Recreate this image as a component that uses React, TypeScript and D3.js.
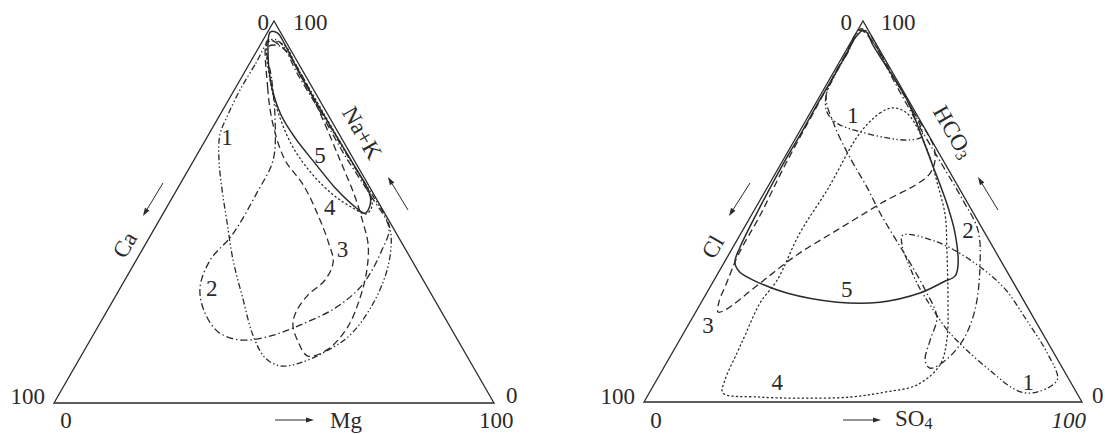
import React from "react";
import * as d3 from "d3";

// every point is [bottom-right %, apex %]; the bottom-left share is the rest
type Pt = [number, number];

// cations: [Mg, Na+K]
const cationField1: Pt[] = [
  [1.6, 95], [1.4, 88.5], [1.3, 81.9], [1.8, 75.4], [2.6, 70.2], [5.7, 63.6], [10.3, 55.8],
  [15.3, 47.9], [22, 37.4], [29.5, 27], [36.3, 17.8], [42.1, 11.8], [46.6, 9.7], [50.7, 10.5],
  [54.9, 13.4], [58.4, 17.8], [59.5, 25.7], [58.3, 34.8], [55.3, 42.7], [52.2, 47.4],
  [45.1, 54.5], [35.5, 63.6], [24.8, 74.1], [14.3, 84.6], [7.1, 91.9], [3.2, 95],
];
const cationField2: Pt[] = [
  [2, 93.2], [7.2, 84.6], [13.2, 74.1], [18, 63.6], [18.6, 55], [18.5, 44], [16.8, 37.4],
  [18, 30.4], [21.9, 24.3], [28, 18.6], [34.1, 16.5], [40.3, 17.5], [45.7, 20.4], [51.5, 24.9],
  [54.6, 30.9], [54.5, 40.1], [53.2, 45.8], [44.6, 54.5], [33.6, 64.9], [22.4, 76.2],
  [12.5, 85.9], [5.2, 93.2],
];
const cationField3: Pt[] = [
  [1.1, 95], [7.2, 82.7], [13.4, 72.8], [20.7, 63.6], [28.1, 57.1], [35.4, 49.2], [41.3, 42.1],
  [45, 36.9], [45.5, 32.2], [43.6, 28.3], [43.1, 23.8], [44.1, 20.4], [47.5, 16], [51.5, 12.3],
  [55.1, 13.9], [56.8, 19.6], [55.8, 27.5], [53.7, 34.8], [50.7, 41.4], [46.5, 47.4],
  [41, 54.5], [33.2, 63.6], [24.1, 74.1], [14.1, 85.1], [6.3, 92.4],
];
const cationField4: Pt[] = [
  [1.4, 94.5], [6.8, 84.6], [12.8, 76.2], [20.3, 67.5], [28, 60.5], [36.2, 54.5], [42.5, 51],
  [46.2, 49.5], [46.4, 51.8], [42.1, 57.1], [35.6, 63.6], [27.7, 71.5], [19.1, 80.1],
  [10.7, 88.5], [5.5, 93.7],
];
const cationField5: Pt[] = [
  [0.6, 97.1], [3.1, 91.1], [8.3, 82.5], [13.9, 75.4], [20.1, 69.4], [27.9, 62.8], [36.4, 55.8],
  [42.8, 51.3], [45.7, 49.7], [46.1, 51], [44.6, 54.5], [41, 58.4], [33, 66.2], [22.8, 76.2],
  [13, 85.9], [5.7, 93.7], [2.3, 96.9],
];
const cationLabelText = ["1", "2", "3", "4", "5"];
const cationLabelPos: Pt[] = [[4.5, 69.6], [20.8, 30.1], [45.5, 40.1], [37, 51.3], [28, 64.9]];

// anions: [SO4, HCO3]
const anionField1a: Pt[] = [
  [0.35, 97.9], [0.65, 91.9], [0.7, 85.8], [1.3, 80.6], [3.7, 76.1], [7.8, 73], [13.3, 71.1],
  [20.9, 69.3], [26.3, 68.8], [28.6, 69.8], [21.7, 78], [14.6, 85], [7.8, 91.9], [2.6, 97.1],
];
const anionField1b: Pt[] = [
  [37.2, 43.8], [45.9, 42], [55.8, 37.3], [66.9, 30.2], [76.6, 21.5], [85.6, 12.9], [91.3, 6.3],
  [91.1, 4.5], [88.4, 2.6], [85.8, 2.4], [82.2, 3.7], [75.9, 7.6], [66.9, 13.6], [59.8, 18.9],
  [53.4, 24.7], [47.2, 30.7], [41.9, 36.7], [38.3, 41.2],
];
const anionField2: Pt[] = [
  [1, 97.6], [0.6, 91.1], [1.3, 80.6], [7.1, 72.7], [14.8, 64.3], [22.7, 56.4], [29.1, 49.6],
  [35.8, 43], [42.3, 36.7], [49.5, 29.4], [55.7, 22.3], [57.2, 16.3], [58.7, 11], [60.8, 8.9],
  [63.3, 10.8], [64.7, 16.3], [63.5, 24.1], [59, 35.4], [53.7, 45.1], [46.3, 53], [37, 62.2],
  [26.3, 72.7], [14.7, 84.5], [5, 94.5],
];
const anionField3: Pt[] = [
  [0.5, 97.6], [0.4, 91.1], [0.7, 76.6], [1.1, 62.2], [2, 49.1], [2.2, 38.6], [3.2, 31.5],
  [4, 26.2], [5.1, 23.6], [6.4, 24.1], [10.9, 31.2], [15.6, 38.6], [21.5, 45.1], [27.9, 52],
  [35.3, 60.1], [33.3, 66.1], [23, 76.6], [13.8, 85.8], [5, 94.5],
];
const anionField4: Pt[] = [
  [18.2, 77.2], [16, 75.9], [14, 70.6], [14, 55.6], [13.4, 44.4], [14.4, 32], [13.5, 26],
  [14.3, 17.6], [14.8, 12.9], [15.6, 5.8], [16.8, 2.4], [25.8, 1.3], [35.1, 1], [46.4, 1.3],
  [53.7, 2.6], [60.1, 4.5], [62.7, 9.7], [61, 16.3], [56, 26.8], [49.2, 39.9], [44.2, 49.1],
  [38.2, 57.5], [33.1, 64.3], [27.7, 70.6], [22, 75.9],
];
const anionField5: Pt[] = [
  [1.2, 97.6], [0.4, 95.5], [0.5, 91.6], [0.6, 85.3], [0.5, 79.8], [0.6, 70.1], [0.5, 64.3],
  [0.9, 51.2], [1.6, 40.7], [2.4, 36.7], [4.8, 34.1], [8.9, 32], [18.3, 28.6], [31, 26.2],
  [40.8, 26.2], [48.7, 28.6], [52.6, 31.5], [54.5, 33.1], [53.7, 36], [48.8, 44.4],
  [43.4, 51.7], [35.2, 61.7], [29.3, 68.8], [20.4, 79.3], [11.5, 87.9], [5.4, 93.7], [2.5, 96.9],
];
const anionLabelText = ["1", "1", "2", "3", "4", "5"];
const anionLabelPos: Pt[] = [[10, 75.3], [85.1, 5.2], [51.4, 45.1], [4.5, 20.2], [27.9, 5], [31.6, 29.4]];

const FONT = "Liberation Serif, Times New Roman, serif";
const INK = "#2a2a2a";

// line style per group number
const DASH: Record<number, string> = {
  1: "6 2.5 1.4 2.5 1.4 2.5",
  2: "7 3 1.4 3",
  3: "7 4",
  4: "1.2 3.2",
  5: "",
};

type Field = { group: number; pts: Pt[] };

const Arrow = ({ x1, y1, x2, y2 }: { x1: number; y1: number; x2: number; y2: number }) => {
  const a = Math.atan2(y2 - y1, x2 - x1);
  const len = 8;
  const w = 2.6;
  const bx = x2 - len * Math.cos(a);
  const by = y2 - len * Math.sin(a);
  const px = -Math.sin(a) * w;
  const py = Math.cos(a) * w;
  return (
    <g>
      <line x1={x1} y1={y1} x2={bx} y2={by} stroke={INK} strokeWidth={1} />
      <path d={`M${x2},${y2}L${bx + px},${by + py}L${bx - px},${by - py}Z`} fill={INK} />
    </g>
  );
};

const Ternary = ({
  x0, x1, top, base, fields, labelText, labelPos,
}: {
  x0: number; x1: number; top: number; base: number;
  fields: Field[]; labelText: string[]; labelPos: Pt[];
}) => {
  const xs = d3.scaleLinear().domain([0, 100]).range([x0, x1]);
  const ys = d3.scaleLinear().domain([0, 100]).range([base, top]);
  const proj = (d: Pt): [number, number] => [xs(d[0] + d[1] / 2), ys(d[1])];
  const closed = d3
    .line<Pt>()
    .x((d) => proj(d)[0])
    .y((d) => proj(d)[1])
    .curve(d3.curveCatmullRomClosed.alpha(0.5));
  const frame = d3.line<Pt>().x((d) => proj(d)[0]).y((d) => proj(d)[1]);
  const corners: Pt[] = [[0, 0], [100, 0], [0, 100]];

  return (
    <g>
      <path d={frame(corners) + "Z"} fill="none" stroke={INK} strokeWidth={1.3} strokeLinejoin="miter" />
      {fields.map((f, i) => (
        <path
          key={i}
          d={closed(f.pts) || ""}
          fill="none"
          stroke={INK}
          strokeWidth={f.group === 5 ? 1.5 : 1.3}
          strokeDasharray={DASH[f.group]}
          strokeLinecap={f.group === 4 ? "round" : "butt"}
        />
      ))}
      {labelText.map((t, i) => {
        const [x, y] = proj(labelPos[i]);
        return (
          <text key={i} x={x} y={y} textAnchor="middle" dominantBaseline="central" fontSize={23} fill={INK}>
            {t}
          </text>
        );
      })}
    </g>
  );
};

export default function App() {
  const cationFields: Field[] = [
    { group: 1, pts: cationField1 },
    { group: 2, pts: cationField2 },
    { group: 3, pts: cationField3 },
    { group: 4, pts: cationField4 },
    { group: 5, pts: cationField5 },
  ];
  const anionFields: Field[] = [
    { group: 1, pts: anionField1a },
    { group: 1, pts: anionField1b },
    { group: 2, pts: anionField2 },
    { group: 3, pts: anionField3 },
    { group: 4, pts: anionField4 },
    { group: 5, pts: anionField5 },
  ];

  return (
    <svg
      width={1105}
      height={434}
      style={{ position: "absolute", left: 0, top: 0, background: "#fff", fontFamily: FONT }}
    >
      <rect width={1105} height={434} fill="#fff" />

      {/* cation triangle */}
      <Ternary x0={54} x1={494} top={21} base={403} fields={cationFields} labelText={cationLabelText} labelPos={cationLabelPos} />
      <g fontSize={23} fill={INK}>
        <text x={269} y={30} textAnchor="end">0</text>
        <text x={293} y={30}>100</text>
        <text x={45} y={404} textAnchor="end">100</text>
        <text x={66} y={428} textAnchor="middle">0</text>
        <text x={506} y={403}>0</text>
        <text x={479} y={428}>100</text>
        <text x={330} y={428}>Mg</text>
        <text transform="translate(125,245) rotate(-60)" textAnchor="middle" dominantBaseline="central">Ca</text>
        <text transform="translate(362,133) rotate(60)" textAnchor="middle" dominantBaseline="central">Na+K</text>
      </g>
      <Arrow x1={275} y1={420} x2={314} y2={420} />
      <Arrow x1={163} y1={183} x2={143} y2={216} />
      <Arrow x1={408} y1={210} x2={388} y2={177} />

      {/* anion triangle */}
      <Ternary x0={644} x1={1082} top={21} base={402} fields={anionFields} labelText={anionLabelText} labelPos={anionLabelPos} />
      <g fontSize={23} fill={INK}>
        <text x={852} y={30} textAnchor="end">0</text>
        <text x={881} y={30}>100</text>
        <text x={635} y={404} textAnchor="end">100</text>
        <text x={656} y={428} textAnchor="middle">0</text>
        <text x={1092} y={403}>0</text>
        <text x={1086} y={428} textAnchor="end" fontStyle="italic">100</text>
        <text x={895} y={426}>
          SO<tspan fontSize={16} dy={3}>4</tspan>
        </text>
        <text transform="translate(713,247) rotate(-60)" textAnchor="middle" dominantBaseline="central">Cl</text>
        <text transform="translate(953,132) rotate(60)" textAnchor="middle" dominantBaseline="central">
          HCO<tspan fontSize={16} dy={4}>3</tspan>
        </text>
      </g>
      <Arrow x1={843} y1={420} x2={881} y2={420} />
      <Arrow x1={750} y1={183} x2={729} y2={216} />
      <Arrow x1={998} y1={210} x2={978} y2={177} />
    </svg>
  );
}
